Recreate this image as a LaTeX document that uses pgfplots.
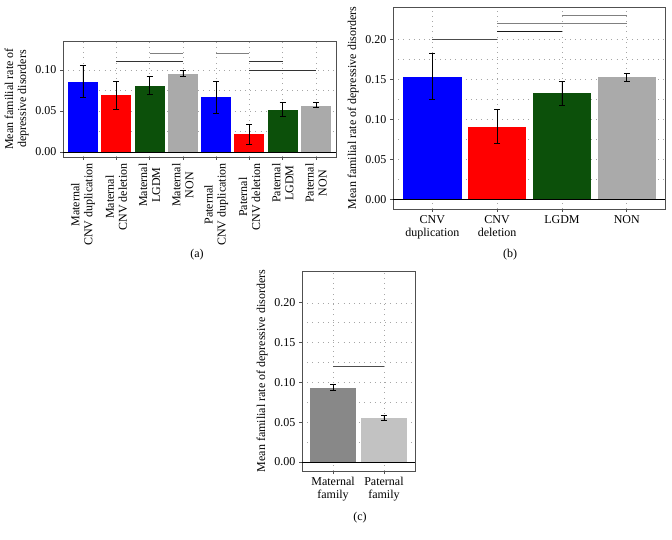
\documentclass[border=0pt]{standalone}
\usepackage{pgfplots}
\pgfplotsset{compat=1.18}
\usepackage{fontspec}
\setmainfont{Liberation Serif}
\definecolor{cblue}{RGB}{0,0,255}
\definecolor{cred}{RGB}{255,0,0}
\definecolor{cgreen}{RGB}{12,80,10}
\definecolor{cgray}{RGB}{170,170,170}
\definecolor{cdg}{RGB}{136,136,136}
\definecolor{clg}{RGB}{194,194,194}
\definecolor{frame}{RGB}{80,80,80}
\pgfplotsset{
  panel/.style={
    scale only axis, anchor=south west,
    axis line style={frame, line width=0.9pt},
    tick style={frame, line width=0.7pt},
    tick align=outside, tick pos=left,
    major tick length=3pt,
    minor tick length=0pt,
    minor y tick num=1,
    grid=both,
    major grid style={gray!70, dash pattern=on 0.7pt off 4.5pt, line width=0.6pt},
    minor grid style={gray!70, dash pattern=on 0.7pt off 4.5pt, line width=0.6pt},
    yticklabel style={/pgf/number format/fixed, /pgf/number format/fixed zerofill, /pgf/number format/precision=2},
    /pgf/number format/assume math mode=true,
    ylabel style={align=center},
    font=\fontsize{12}{13}\selectfont,
  },
  mybar/.style={ybar, bar width=0.9, bar shift=0pt, fill=#1, draw=none,
    error bars/.cd, y dir=both, y explicit,
    error bar style={black, line width=0.6pt},
    error mark options={rotate=90, mark size=3pt, black, line width=0.6pt}},
  sig/.style={line width=0.8pt, no marks, forget plot},
}
\begin{document}
\begin{tikzpicture}
\path[use as bounding box] (0,0) rectangle (672pt,539pt);
% (a)
\begin{axis}[panel, at={(63pt,382pt)}, width=273pt, height=116pt,
  xmin=-0.6, xmax=7.6, ymin=-0.0061, ymax=0.1354,
  xtick={0,...,7}, ytick={0,0.05,0.1},
  xticklabels={{Maternal\\CNV duplication},{Maternal\\CNV deletion},{Maternal\\LGDM},{Maternal\\NON},{Paternal\\CNV duplication},{Paternal\\CNV deletion},{Paternal\\LGDM},{Paternal\\NON}},
  xticklabel style={rotate=90, anchor=east, align=center},
  ylabel={Mean familial rate of\\depressive disorders}]
\addplot[mybar=cblue] coordinates {(0,0.0857) += (0,0.0200) -= (0,0.0184)};
\addplot[mybar=cred] coordinates {(1,0.0690) += (0,0.0170) -= (0,0.0170)};
\addplot[mybar=cgreen] coordinates {(2,0.0800) += (0,0.0120) -= (0,0.0100)};
\addplot[mybar=cgray] coordinates {(3,0.0955) += (0,0.0041) -= (0,0.0035)};
\addplot[mybar=cblue] coordinates {(4,0.0665) += (0,0.0195) -= (0,0.0195)};
\addplot[mybar=cred] coordinates {(5,0.0214) += (0,0.0126) -= (0,0.0114)};
\addplot[mybar=cgreen] coordinates {(6,0.0510) += (0,0.0094) -= (0,0.0074)};
\addplot[mybar=cgray] coordinates {(7,0.0563) += (0,0.0041) -= (0,0.0020)};
\addplot[sig, black, line width=0.9pt] coordinates {(-0.6,0) (7.6,0)};
\addplot[sig, gray] coordinates {(2,0.12) (3,0.12)};
\addplot[sig, black!80] coordinates {(1,0.11) (3,0.11)};
\addplot[sig, gray] coordinates {(4,0.12) (5,0.12)};
\addplot[sig, black!80] coordinates {(5,0.11) (6,0.11)};
\addplot[sig, black!80] coordinates {(5,0.10) (7,0.10)};
\end{axis}
% (b)
\begin{axis}[panel, at={(393pt,330pt)}, width=272pt, height=202pt,
  xmin=-0.607, xmax=3.59, ymin=-0.0117, ymax=0.241,
  xtick={0,...,3}, ytick={0,0.05,0.1,0.15,0.2},
  xticklabels={{CNV\\duplication},{CNV\\deletion},{LGDM},{NON}},
  xticklabel style={align=center, anchor=north},
  ylabel={Mean familial rate of depressive disorders}]
\addplot[mybar=cblue] coordinates {(0,0.1533) += (0,0.0296) -= (0,0.0283)};
\addplot[mybar=cred] coordinates {(1,0.0912) += (0,0.0212) -= (0,0.0208)};
\addplot[mybar=cgreen] coordinates {(2,0.1329) += (0,0.0154) -= (0,0.0150)};
\addplot[mybar=cgray] coordinates {(3,0.1533) += (0,0.0050) -= (0,0.0050)};
\addplot[sig, black, line width=0.9pt] coordinates {(-0.607,0) (3.59,0)};
\addplot[sig, black!70] coordinates {(0,0.20) (1,0.20)};
\addplot[sig, black!90] coordinates {(1,0.21) (2,0.21)};
\addplot[sig, gray, line width=1.1pt] coordinates {(1,0.22) (3,0.22)};
\addplot[sig, gray, line width=1.1pt] coordinates {(2,0.23) (3,0.23)};
\end{axis}
% (c)
\begin{axis}[panel, at={(302pt,68pt)}, width=113pt, height=200pt,
  xmin=-0.61, xmax=1.61, ymin=-0.0113, ymax=0.240,
  xtick={0,1}, ytick={0,0.05,0.1,0.15,0.2},
  xticklabels={{Maternal\\family},{Paternal\\family}},
  xticklabel style={align=center, anchor=north},
  ylabel={Mean familial rate of depressive disorders}]
\addplot[mybar=cdg] coordinates {(0,0.0935) += (0,0.0042) -= (0,0.0038)};
\addplot[mybar=clg] coordinates {(1,0.0558) += (0,0.0032) -= (0,0.0030)};
\addplot[sig, black, line width=0.9pt] coordinates {(-0.61,0) (1.61,0)};
\addplot[sig, black!70] coordinates {(0,0.12) (1,0.12)};
\end{axis}
\node[font=\fontsize{12}{13}\selectfont] at (197pt,284pt) {(a)};
\node[font=\fontsize{12}{13}\selectfont] at (510pt,284pt) {(b)};
\node[font=\fontsize{12}{13}\selectfont] at (360pt,21pt) {(c)};
\end{tikzpicture}
\end{document}
